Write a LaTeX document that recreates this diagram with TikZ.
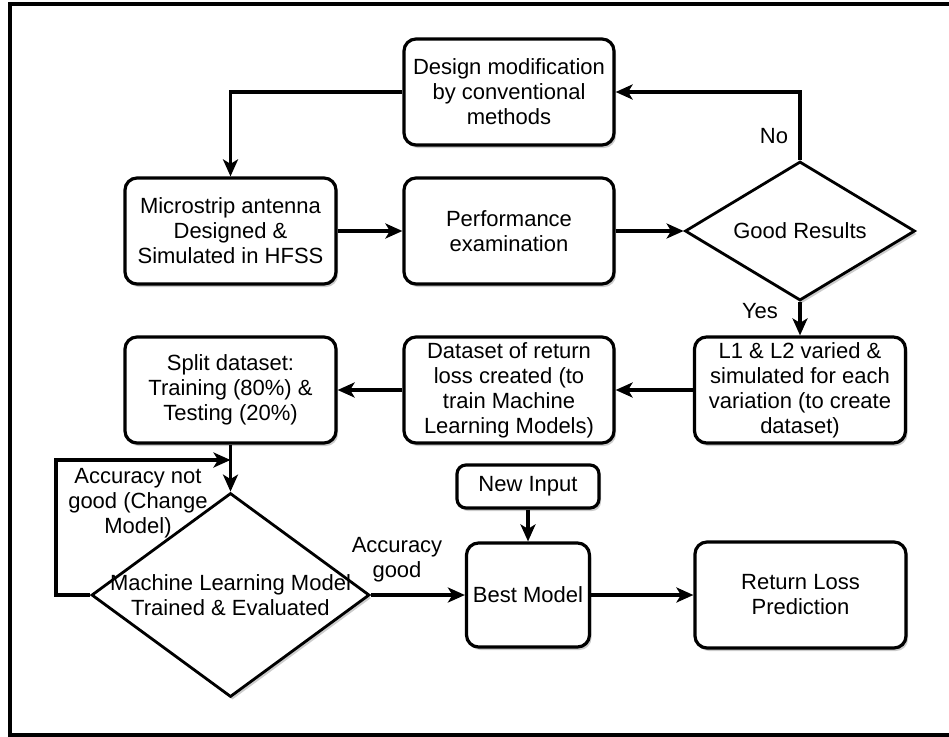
\documentclass[tikz,border=0pt]{standalone}
\usepackage{fontspec}
\setmainfont{Liberation Sans}
\usetikzlibrary{shapes.geometric,arrows.meta,shadows}
\newcommand\myfs{\fontsize{22}{25}\selectfont}
\begin{document}
\begin{tikzpicture}[x=1pt,y=-1pt,
  shad/.style={drop shadow={shadow xshift=2pt,shadow yshift=-3pt,opacity=0.2,fill=black}},
  box/.style={draw=black, line width=3.2pt, rounded corners=12pt, fill=white, align=center,
    inner sep=0pt, font=\myfs, text=black, shad},
  dia/.style={draw=black, line width=2.8pt, diamond, fill=white, inner sep=0pt, shad},
  dtext/.style={align=center, font=\myfs, text=black},
  lbl/.style={align=center, font=\myfs, text=black, inner sep=0pt},
  arr/.style={draw=black, line width=3.2pt, -{Stealth[length=17pt,width=15pt,inset=4.5pt]}},
]
\clip (0,0) rectangle (949,736);
\fill[white] (0,0) rectangle (949,736);
\draw[line width=4pt] (960,4) -- (10,4) -- (10,734.5) -- (960,734.5);

% nodes
\node[box, minimum width=210pt, minimum height=106pt] (design) at (509,92) {Design modification\\by conventional\\methods};
\node[box, minimum width=211pt, minimum height=106pt] (micro) at (230.5,231) {Microstrip antenna\\Designed \&\\Simulated in HFSS};
\node[box, minimum width=210pt, minimum height=106pt] (perf) at (509,231) {Performance\\examination};
\node[dia, minimum width=230pt, minimum height=139pt,
  label={[dtext]center:Good Results}] (good) at (800,231) {};
\node[box, minimum width=211pt, minimum height=106pt] (l1) at (800,390) {L1 \& L2 varied \&\\simulated for each\\variation (to create\\dataset)};
\node[box, minimum width=210pt, minimum height=106pt] (data) at (509,390) {Dataset of return\\loss created (to\\train Machine\\Learning Models)};
\node[box, minimum width=211pt, minimum height=106pt] (split) at (230.5,390) {Split dataset:\\Training (80\%) \&\\Testing (20\%)};
\node[dia, minimum width=278pt, minimum height=204pt,
  label={[dtext]center:Machine Learning Model\\Trained \& Evaluated}] (ml) at (230.5,595) {};
\node[box, rounded corners=9pt, minimum width=142pt, minimum height=43pt] (newin) at (528,486.5) {New Input};
\node[box, minimum width=123pt, minimum height=104pt] (best) at (528,595) {Best Model};
\node[box, minimum width=211pt, minimum height=106pt] (ret) at (800.5,595) {Return Loss\\Prediction};

% labels
\node[lbl] (no) at (774,136) {No};
\node[lbl] (yes) at (760,311) {Yes};
\node[lbl] (notgood) at (138,503) {Accuracy not\\good (Change\\Model)};
\node[lbl] (accgood) at (397,560) {Accuracy\\good};

% helper coordinates
\coordinate (jn) at (230.5,460);
\coordinate (lp) at (56,595);

% connectors
\draw[arr] (design.west) -| (micro.north);
\draw[arr] (good.north) |- (design.east);
\draw[arr] (micro.east) -- (perf.west);
\draw[arr] (perf.east) -- (good.west);
\draw[arr] (good.south) -- (l1.north);
\draw[arr] (l1.west) -- (data.east);
\draw[arr] (data.west) -- (split.east);
\draw[arr] (split.south) -- (ml.north);
\draw[arr] (ml.west) -- (lp) |- (jn);
\draw[arr] (ml.east) -- (best.west);
\draw[arr] (newin.south) -- (best.north);
\draw[arr] (best.east) -- (ret.west);
\end{tikzpicture}
\end{document}
